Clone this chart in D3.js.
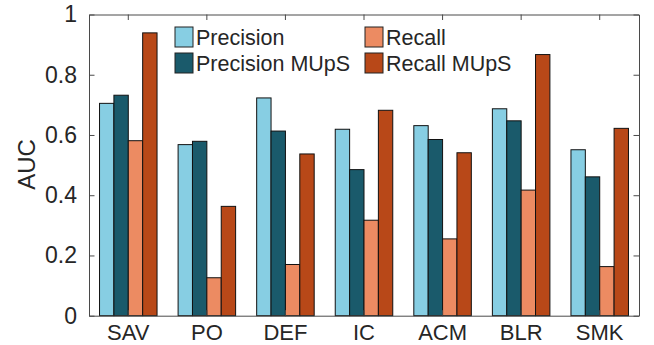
<!DOCTYPE html>
<html>
<head>
<meta charset="utf-8">
<script src="https://cdn.jsdelivr.net/npm/d3@7"></script>
<style>
  html, body { margin: 0; padding: 0; background: #fff; }
  svg { display: block; }
  text { font-family: "Liberation Sans", Helvetica, Arial, sans-serif; fill: #262626; }
</style>
</head>
<body>
<svg id="chart" width="654" height="345"></svg>
<script>
const categories = ["SAV", "PO", "DEF", "IC", "ACM", "BLR", "SMK"];
const seriesNames = ["Precision", "Precision MUpS", "Recall", "Recall MUpS"];
const precision     = [0.705, 0.568, 0.723, 0.619, 0.631, 0.687, 0.551];
const precisionMUpS = [0.732, 0.579, 0.613, 0.485, 0.585, 0.647, 0.461];
const recall        = [0.581, 0.126, 0.170, 0.317, 0.255, 0.417, 0.163];
const recallMUpS    = [0.939, 0.363, 0.537, 0.682, 0.541, 0.867, 0.622];
const yTicks = [0, 0.2, 0.4, 0.6, 0.8, 1];
const yTickLabels = ["0", "0.2", "0.4", "0.6", "0.8", "1"];
const colors = ["#87cee3", "#1a5a6b", "#ec8b62", "#b84818"];

const seriesValues = [precision, precisionMUpS, recall, recallMUpS];

const svg = d3.select("#chart");
const mLeft = 89, mRight = 639, mTop = 14.5, mBottom = 315.7;

const x = d3.scaleBand().domain(categories).range([mLeft, mRight])
  .paddingInner(0.268).paddingOuter(0.134);
const xs = d3.scaleBand().domain(seriesNames).range([0, x.bandwidth()]);
const y = d3.scaleLinear().domain([0, 1]).range([mBottom, mTop]);

// bars
const g = svg.append("g");
categories.forEach((c, ci) => {
  seriesNames.forEach((s, si) => {
    const v = seriesValues[si][ci];
    g.append("rect")
      .attr("x", x(c) + xs(s))
      .attr("y", y(v))
      .attr("width", xs.bandwidth())
      .attr("height", y(0) - y(v))
      .attr("fill", colors[si])
      .attr("stroke", "#111")
      .attr("stroke-width", 1);
  });
});

// axes
const axisColor = "#4a4a4a";
const tickLen = 5.5;
const fontSize = 23;

const yAxis = d3.axisLeft(y).tickValues(yTicks)
  .tickFormat((d, i) => yTickLabels[i]).tickSizeInner(-tickLen).tickSizeOuter(0).tickPadding(12);
const ya = svg.append("g").attr("transform", `translate(${mLeft},0)`).call(yAxis);
ya.selectAll("text").style("font-size", fontSize + "px").attr("fill", "#262626");

const yAxisR = d3.axisRight(y).tickValues(yTicks).tickFormat("").tickSizeInner(-tickLen).tickSizeOuter(0);
svg.append("g").attr("transform", `translate(${mRight},0)`).call(yAxisR);

const xAxis = d3.axisBottom(x).tickSizeInner(-tickLen).tickSizeOuter(0).tickPadding(9);
const xa = svg.append("g").attr("transform", `translate(0,${mBottom})`).call(xAxis);
xa.selectAll("text").style("font-size", "22px").attr("fill", "#262626");

const xAxisT = d3.axisTop(x).tickSizeInner(-tickLen).tickSizeOuter(0).tickFormat("");
svg.append("g").attr("transform", `translate(0,${mTop})`).call(xAxisT);

svg.selectAll(".domain, .tick line").attr("stroke", axisColor).attr("stroke-width", 1);

// y label
svg.append("text")
  .attr("transform", `translate(35,164.5) rotate(-90)`)
  .attr("text-anchor", "middle")
  .style("font-size", "24px")
  .text("AUC");

// legend
const legendCols = [175, 365];
const legendRows = [27, 53];
seriesNames.forEach((s, i) => {
  const col = Math.floor(i / 2), row = i % 2;
  const lx = legendCols[col], ly = legendRows[row];
  svg.append("rect")
    .attr("x", lx).attr("y", ly).attr("width", 18).attr("height", 20)
    .attr("fill", colors[i]).attr("stroke", "#222").attr("stroke-width", 1);
  svg.append("text")
    .attr("x", lx + 21).attr("y", ly + 18)
    .style("font-size", "21.5px")
    .text(s);
});
</script>
</body>
</html>
